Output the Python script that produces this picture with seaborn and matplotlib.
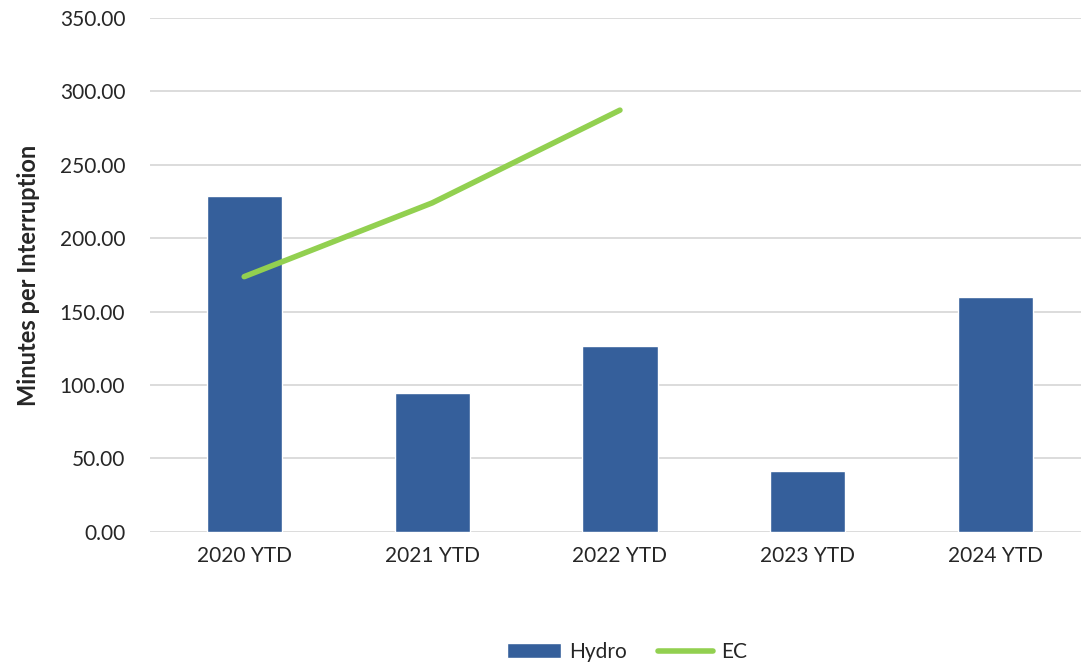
import matplotlib.pyplot as plt
import pandas as pd
import seaborn as sns
from matplotlib.lines import Line2D
from matplotlib.patches import Patch

years = ["2020 YTD", "2021 YTD", "2022 YTD", "2023 YTD", "2024 YTD"]
hydro = [229.0, 94.5, 126.7, 41.5, 160.0]
ec_years = ["2020 YTD", "2021 YTD", "2022 YTD"]
ec = [173.8, 224.0, 287.2]

bar_color = "#355F9B"
line_color = "#92D050"

sns.set_style("white")
plt.rcParams["font.family"] = ["Lato", "DejaVu Sans"]

hydro_df = pd.DataFrame({"Year": years, "Hydro": hydro})
ec_df = pd.DataFrame({"Year": ec_years, "EC": ec})

fig = plt.figure(figsize=(10.81, 6.64), dpi=100)
ax = fig.add_axes([0.139, 0.199, 0.869, 0.774])

sns.barplot(x="Year", y="Hydro", data=hydro_df, color=bar_color,
            saturation=1, width=0.4, ax=ax, zorder=2)
sns.lineplot(x="Year", y="EC", data=ec_df, color=line_color,
             linewidth=4, ax=ax, zorder=3, solid_capstyle="round")

ax.set_ylim(0, 350)
ax.set_xlim(-0.5, 4.5)
ax.set_yticks(range(0, 351, 50))
ax.set_yticklabels(["%.2f" % v for v in range(0, 351, 50)])
ax.yaxis.grid(True, color="#D9D9D9", linewidth=1.3, zorder=0)
ax.set_axisbelow(True)
for s in ax.spines.values():
    s.set_visible(False)
ax.tick_params(axis="both", length=0, labelsize=15, pad=10)
ax.tick_params(axis="y", pad=18)
ax.set_xlabel("")
ax.set_ylabel("Minutes per Interruption", fontsize=17, fontweight="bold", labelpad=14)

handles = [Patch(facecolor=bar_color, label="Hydro"),
           Line2D([0], [0], color=line_color, linewidth=4, label="EC")]
fig.legend(handles=handles, loc="lower center", ncol=2, frameon=False,
           fontsize=15, bbox_to_anchor=(0.58, -0.025), handlelength=2.6,
           handletextpad=0.4, columnspacing=1.5)

fig.savefig("out.png", dpi=100)
